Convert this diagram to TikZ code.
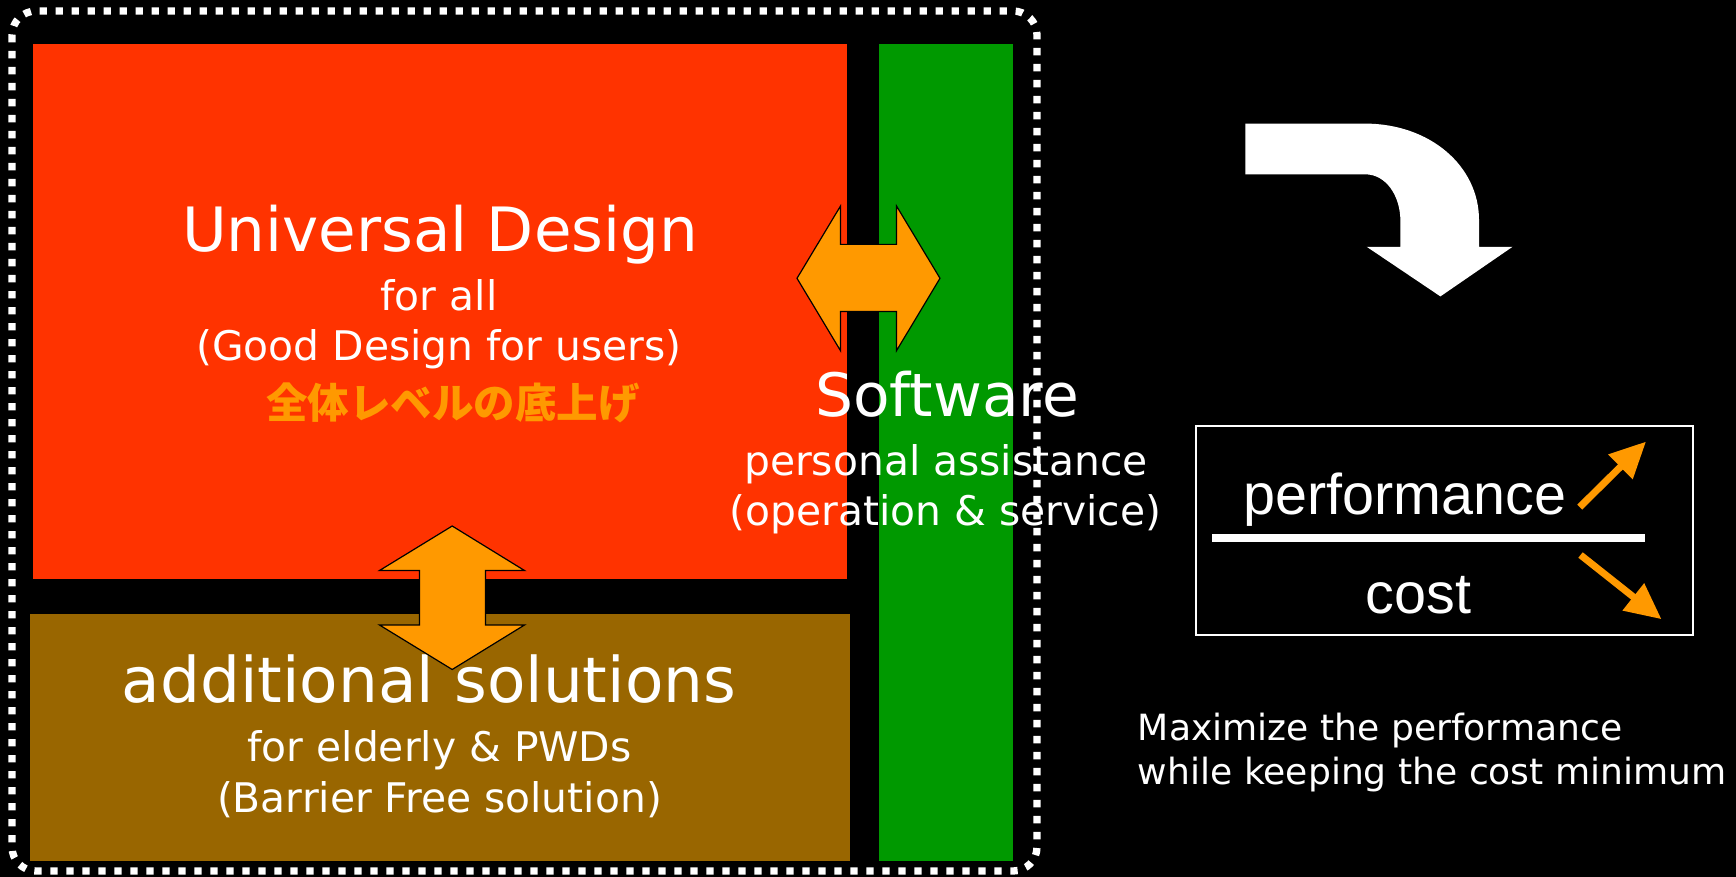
\documentclass[tikz,border=0pt]{standalone}
\usepackage{fontspec}
\setmainfont{DejaVu Sans}
\newfontfamily\arialf{Liberation Sans}
\newfontfamily\cjk{Noto Sans CJK JP}
\usetikzlibrary{arrows.meta}
\definecolor{udred}{HTML}{FF3300}
\definecolor{udbrown}{HTML}{996600}
\definecolor{udgreen}{HTML}{009900}
\definecolor{udorange}{HTML}{FF9900}
\tikzset{
  bigtxt/.style={text=white, inner sep=0pt, anchor=base, font=\fontsize{61.1pt}{70pt}\selectfont},
  midtxt/.style={text=white, inner sep=0pt, anchor=base, font=\fontsize{40.8pt}{48pt}\selectfont},
  swtxt/.style={text=white, inner sep=0pt, anchor=base, font=\fontsize{59.8pt}{68pt}\selectfont},
  fractxt/.style={text=white, inner sep=0pt, anchor=base, font=\arialf\fontsize{57.5pt}{66pt}\selectfont},
  notetxt/.style={text=white, inner sep=0pt, anchor=base west, font=\fontsize{36.1pt}{44pt}\selectfont},
  dblarrow/.style={fill=udorange, draw=black, line width=1.2pt, line join=miter},
  trendarrow/.style={draw=udorange, line width=7pt, -{Triangle[length=36pt,width=33pt]}},
}
\begin{document}
\begin{tikzpicture}[x=1pt,y=-1pt]
\useasboundingbox (0,0) rectangle (1736,877);
\fill[black] (0,0) rectangle (1736,877);

% panels
\path[fill=udred] (33,44) rectangle (847,579);
\path[fill=udbrown] (29.5,614) rectangle (850,861);
\path[fill=udgreen] (879,44) rectangle (1013,861);

% dotted frame
\draw[white, line width=7.3pt, dash pattern=on 7.3pt off 8.7pt, rounded corners=24pt]
  (12,11) rectangle (1037,871);

% texts left
\node[bigtxt] (t1) at (440,251.7) {Universal Design};
\node[midtxt] (t2) at (439,310.4) {for all};
\node[midtxt] (t3) at (439,360.7) {(Good Design for users)};
\node[inner sep=0pt, text=udorange, font=\cjk\bfseries\fontsize{41.5pt}{48pt}\selectfont] (t4) at (453,403) {全体レベルの底上げ};

\node[bigtxt, font=\fontsize{62.9pt}{72pt}\selectfont] (a1) at (429,702) {additional solutions};
\node[midtxt] (a2) at (439.6,761.7) {for elderly \& PWDs};
\node[midtxt] (a3) at (439.5,812) {(Barrier Free solution)};

\node[swtxt] (s1) at (947,416.7) {Software};
\node[midtxt] (s2) at (946,475.4) {personal assistance};
\node[midtxt] (s3) at (945.5,525.7) {(operation \& service)};

% double arrows
\draw[dblarrow] (797,278.3) -- (840.5,206) -- (840.5,244.4) -- (896.5,244.4) -- (896.5,206)
  -- (940,278.3) -- (896.5,350.7) -- (896.5,311.5) -- (840.5,311.5) -- (840.5,350.7) -- cycle;
\draw[dblarrow] (452.2,526) -- (524.5,570.5) -- (485.5,570.5) -- (485.5,625) -- (524.5,625)
  -- (452.2,669.5) -- (379.5,625) -- (419.5,625) -- (419.5,570.5) -- (379.5,570.5) -- cycle;

% bent white arrow
\fill[white] (1245.3,123.6) -- (1365,123.6)
  .. controls (1430,123.6) and (1479,166) .. (1479,220)
  -- (1479,246.8) -- (1512.5,246.8) -- (1440.4,296.4) -- (1366.7,246.8) -- (1400.4,246.8)
  -- (1400.4,221.4)
  .. controls (1400.4,195.5) and (1386,174.3) .. (1365,174.3)
  -- (1245.3,174.3) -- cycle;

% fraction box
\node[draw=white, line width=2pt, inner sep=0pt, minimum width=497pt, minimum height=208.6pt] (box) at (1444.5,530.3) {};
\node[fractxt] (perf) at (1405,514) {performance};
\node[fractxt] (cost) at (1418.3,613.3) {cost};
\coordinate (barL) at (1212.4,538.3);
\coordinate (barR) at (1645,538.3);
\draw[white, line width=8pt] (barL) -- (barR);
\coordinate (upS) at (1579.7,507.1);
\coordinate (upE) at (1646,441.6);
\coordinate (dnS) at (1580.5,555);
\coordinate (dnE) at (1661.5,619.2);
\draw[trendarrow] (upS) -- (upE);
\draw[trendarrow] (dnS) -- (dnE);

% note
\node[notetxt] (n1) at (1137.7,740) {Maximize the performance};
\node[notetxt] (n2) at (1137.7,784) {while keeping the cost minimum};
\end{tikzpicture}
\end{document}
